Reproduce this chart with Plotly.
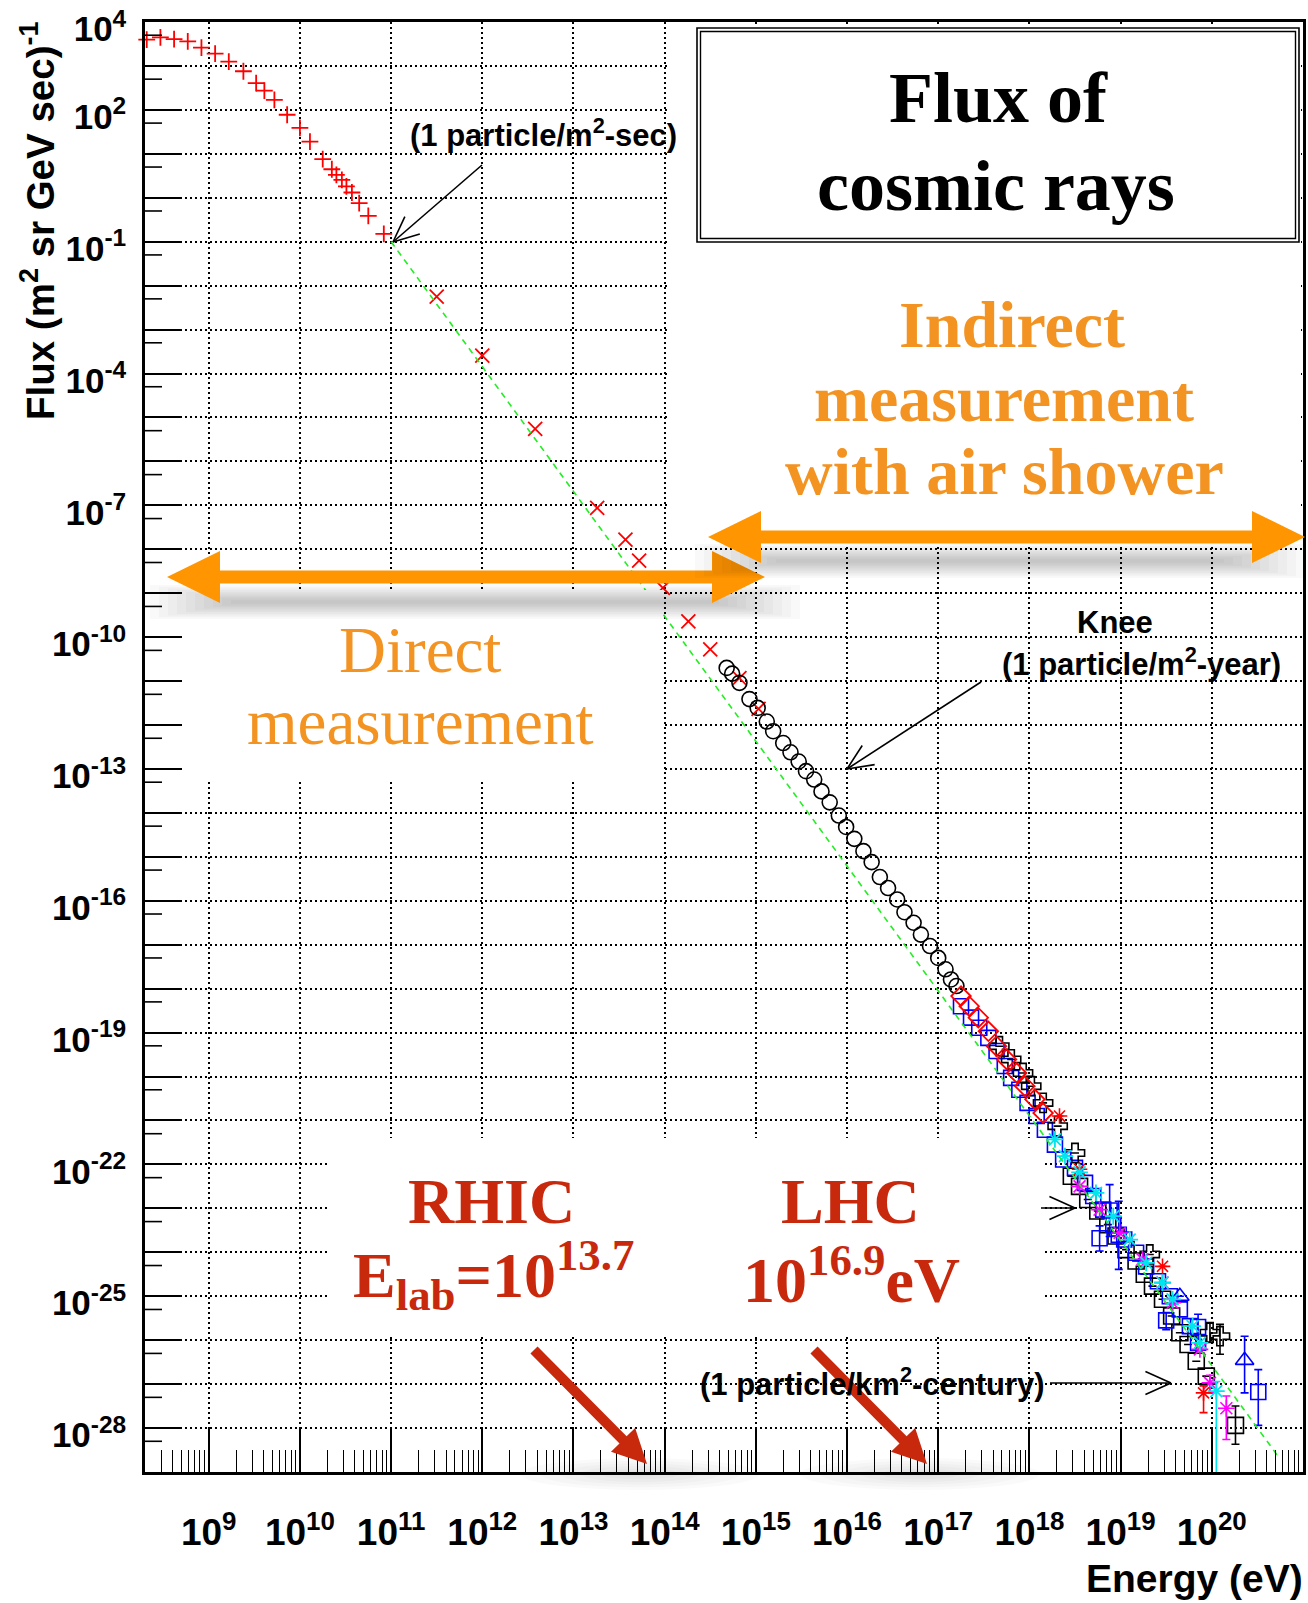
import numpy as np
import plotly.graph_objects as go

# ---------------------------------------------------------------
# Cosmic-ray flux data: log10(E / eV) and log10(flux / (m^2 sr GeV s)^-1)
# ---------------------------------------------------------------
# direct measurements (balloon / satellite), red "+"
direct_logE = [8.32, 8.47, 8.62, 8.77, 8.92, 9.07, 9.22, 9.38, 9.52, 9.61, 9.72, 9.86,
               10.00, 10.11, 10.25, 10.35, 10.40, 10.46, 10.51, 10.57, 10.65, 10.75, 10.92]
direct_logF = [3.60, 3.65, 3.61, 3.56, 3.42, 3.28, 3.10, 2.88, 2.61, 2.44, 2.23, 1.89,
               1.59, 1.28, 0.88, 0.65, 0.52, 0.41, 0.26, 0.12, -0.12, -0.41, -0.82]

# high-energy direct data, red "x"
xmark_logE = [11.50, 12.00, 12.58, 13.26, 13.57, 13.72, 13.98, 14.26, 14.50, 14.82, 15.03]
xmark_logF = [-2.25, -3.59, -5.26, -7.06, -7.78, -8.26, -8.88, -9.64, -10.28, -10.93, -11.63]

# air-shower array around the knee, open circles
circle_logE = [14.68, 14.74, 14.82, 14.93, 15.02, 15.12, 15.19, 15.30, 15.38, 15.47,
               15.55, 15.64, 15.72, 15.81, 15.91, 15.99, 16.08, 16.18, 16.27, 16.36,
               16.45, 16.55, 16.63, 16.73, 16.81, 16.91, 17.00, 17.08, 17.14, 17.20]
circle_logF = [-10.70, -10.83, -11.04, -11.41, -11.61, -11.92, -12.14, -12.41, -12.62, -12.83,
               -13.05, -13.24, -13.51, -13.76, -14.06, -14.32, -14.59, -14.87, -15.12, -15.46,
               -15.71, -15.97, -16.26, -16.50, -16.77, -17.03, -17.30, -17.56, -17.79, -17.94]

# ultra-high-energy experiments
diamond_logE = [17.25, 17.34, 17.44, 17.55, 17.64, 17.75, 17.86, 17.95, 18.06, 18.15]
diamond_logF = [-18.17, -18.40, -18.66, -18.97, -19.31, -19.61, -19.92, -20.22, -20.52, -20.83]

bsq_logE = [17.25, 17.36, 17.45, 17.55, 17.64, 17.73, 17.80, 17.89, 17.98, 18.08, 18.17, 18.28,
            18.37, 18.50, 18.61, 18.70, 18.81, 18.92, 19.04, 19.17, 19.28, 19.41, 19.54,
            19.65, 19.76, 19.85]
bsq_logF = [-18.40, -18.66, -18.89, -19.12, -19.42, -19.76, -20.03, -20.30, -20.60, -20.90,
            -21.21, -21.55, -21.89, -22.08, -22.42, -22.72, -23.03, -23.37, -23.71, -24.01,
            -24.32, -24.66, -25.00, -25.30, -25.68, -26.06]

bsqe_logE = [18.77, 18.88, 18.98, 19.50, 19.85, 20.51]
bsqe_logF = [-23.68, -23.05, -23.60, -25.55, -25.70, -27.18]
bsqe_hi = [-23.40, -22.46, -22.84, -25.37, -25.41, -26.67]
bsqe_lo = [-23.97, -23.64, -24.39, -25.76, -25.98, -27.94]

ksq_logE = [18.46, 18.55, 18.64, 18.75, 18.86, 18.95, 19.06, 19.17, 19.26, 19.35, 19.46,
            19.56, 19.65, 19.74, 19.83, 19.94, 20.26]
ksq_logF = [-22.27, -22.50, -22.80, -23.06, -23.37, -23.63, -23.94, -24.20, -24.50, -24.77,
            -25.07, -25.45, -25.83, -26.10, -26.48, -26.82, -27.94]
ksq_hi = [-22.27, -22.50, -22.80, -23.06, -23.37, -23.63, -23.94, -24.20, -24.50, -24.77,
          -25.07, -25.45, -25.83, -26.10, -26.48, -26.82, -27.50]
ksq_lo = [-22.27, -22.50, -22.80, -23.06, -23.37, -23.63, -23.94, -24.20, -24.50, -24.77,
          -25.07, -25.45, -25.83, -26.10, -26.48, -26.82, -28.37]

kcross_logE = [17.67, 17.80, 17.93, 18.02, 18.15, 18.31, 18.50, 19.32, 19.98, 20.09]
kcross_logF = [-19.31, -19.61, -19.92, -20.22, -20.60, -21.13, -21.74, -24.05, -25.83, -25.91]
kcross_hi = [-19.31, -19.61, -19.92, -20.22, -20.60, -21.13, -21.74, -24.05, -25.60, -25.64]
kcross_lo = [-19.31, -19.61, -19.92, -20.22, -20.60, -21.13, -21.74, -24.05, -26.05, -26.32]

cyan_logE = [18.28, 18.39, 18.55, 18.73, 18.92, 19.10, 19.28, 19.46, 19.57, 19.79, 19.87, 20.05]
cyan_logF = [-21.43, -21.81, -22.18, -22.65, -23.18, -23.71, -24.24, -24.69, -25.07, -25.68,
             -26.06, -27.16]
cyan_hi = [-21.43, -21.81, -22.18, -22.65, -23.18, -23.71, -24.24, -24.69, -25.07, -25.68,
           -26.06, -26.94]
cyan_lo = [-21.43, -21.81, -22.18, -22.65, -23.18, -23.71, -24.24, -24.69, -25.07, -25.68,
           -26.06, -29.50]

mag_logE = [18.55, 18.77, 18.99, 19.24, 19.46, 19.57, 19.87, 19.98, 20.16]
mag_logF = [-22.50, -23.03, -23.56, -24.16, -24.69, -25.15, -26.21, -26.97, -27.55]
mag_hi = [-22.50, -23.03, -23.56, -24.16, -24.69, -25.15, -26.21, -26.80, -27.27]
mag_lo = [-22.50, -23.03, -23.56, -24.16, -24.69, -25.15, -26.21, -27.20, -28.26]

red_logE = [18.33, 18.55, 19.46, 19.91]
red_logF = [-20.90, -22.11, -24.32, -27.20]
red_hi = [-20.90, -22.11, -24.32, -27.04]
red_lo = [-20.90, -22.11, -24.32, -27.65]

btri_logE = [19.65, 20.36]
btri_logF = [-25.00, -26.46]
btri_hi = [-25.00, -25.91]
btri_lo = [-25.00, -27.20]

# E^-2.8 reference power law
fit_logE = [11.0, 20.74]
fit_logF = [-1.0, -28.68]

# axis labelling
x_label_exp = list(range(9, 21))
y_label_exp = [4, 2, -1, -4, -7, -10, -13, -16, -19, -22, -25, -28]

# ---------------------------------------------------------------
FIG_W, FIG_H = 1308, 1603
ML, MR, MT, MB = 145, 5, 22, 131
PW, PH = FIG_W - ML - MR, FIG_H - MT - MB
Y_LO, Y_HI = -29.0, 4.0


def px(x):
    return (x - ML) / PW


def py(y):
    return (FIG_H - MB - y) / PH


def lin(v):
    return 10 ** np.asarray(v, dtype=float)


def errbar(logF, hi, lo, color):
    f = lin(logF)
    return dict(type="data", symmetric=False, array=lin(hi) - f, arrayminus=f - lin(lo),
                color=color, thickness=1.6, width=4)


fig = go.Figure()


def add(logE, logF, symbol, color, size=14, lw=1.5, error=None):
    fig.add_trace(go.Scatter(
        x=lin(logE), y=lin(logF), mode="markers", cliponaxis=False,
        marker=dict(symbol=symbol, size=size, color=color,
                    line=dict(color=color, width=lw)),
        error_y=error, showlegend=False, hoverinfo="x+y"))


add(direct_logE, direct_logF, "cross-thin", "red", size=12, lw=1.8)
add(xmark_logE, xmark_logF, "x-thin", "red", size=14, lw=1.8)
add(circle_logE, circle_logF, "circle-open", "black", size=15, lw=1.6)
add(ksq_logE, ksq_logF, "square-open", "black", size=16, lw=1.6,
    error=errbar(ksq_logF, ksq_hi, ksq_lo, "black"))
add(bsq_logE, bsq_logF, "square-open", "blue", size=15, lw=1.6)
add(bsqe_logE, bsqe_logF, "square-open", "blue", size=15, lw=1.6,
    error=errbar(bsqe_logF, bsqe_hi, bsqe_lo, "blue"))
add(kcross_logE, kcross_logF, "cross-open", "black", size=16, lw=1.6,
    error=errbar(kcross_logF, kcross_hi, kcross_lo, "black"))
add(diamond_logE, diamond_logF, "diamond-open", "red", size=15, lw=1.8)
add(btri_logE, btri_logF, "triangle-up-open", "blue", size=16, lw=1.6,
    error=errbar(btri_logF, btri_hi, btri_lo, "blue"))
add(mag_logE, mag_logF, "asterisk-open", "magenta", size=14, lw=1.6,
    error=errbar(mag_logF, mag_hi, mag_lo, "magenta"))
add(red_logE, red_logF, "asterisk-open", "red", size=13, lw=1.6,
    error=errbar(red_logF, red_hi, red_lo, "red"))
add(cyan_logE, cyan_logF, "asterisk-open", "#00e5ee", size=14, lw=1.8,
    error=errbar(cyan_logF, cyan_hi, cyan_lo, "#00e5ee"))

fig.add_trace(go.Scatter(x=lin(fit_logE), y=lin(fit_logF), mode="lines",
                         line=dict(color="#22ee22", width=1.6, dash="6px,5px"),
                         showlegend=False, hoverinfo="skip"))

# ---------------------------------------------------------------
# decorations (positioned in figure pixels, converted to paper units)
shapes = []


def rect(x0, y0, x1, y1, fill="white", line=None):
    shapes.append(dict(type="rect", xref="paper", yref="paper",
                       x0=px(x0), x1=px(x1), y0=py(y1), y1=py(y0),
                       fillcolor=fill, line=line or dict(width=0), layer="above"))


def poly(pts, fill):
    path = "M " + " L ".join(f"{px(x):.5f},{py(y):.5f}" for x, y in pts) + " Z"
    shapes.append(dict(type="path", xref="paper", yref="paper", path=path,
                       fillcolor=fill, line=dict(width=0), layer="above"))


def seg(x0, y0, x1, y1, color="black", width=1.6):
    shapes.append(dict(type="line", xref="paper", yref="paper",
                       x0=px(x0), y0=py(y0), x1=px(x1), y1=py(y1),
                       line=dict(color=color, width=width), layer="above"))


def arrow_pts(p0, p1, shaft, hl, hw, double=False):
    p0, p1 = np.array(p0, float), np.array(p1, float)
    u = (p1 - p0) / np.linalg.norm(p1 - p0)
    n = np.array([-u[1], u[0]])
    b1 = p1 - u * hl
    if double:
        b0 = p0 + u * hl
        pts = [p0, b0 + n * hw, b0 + n * shaft, b1 + n * shaft, b1 + n * hw, p1,
               b1 - n * hw, b1 - n * shaft, b0 - n * shaft, b0 - n * hw]
    else:
        pts = [p0 + n * shaft, b1 + n * shaft, b1 + n * hw, p1,
               b1 - n * hw, b1 - n * shaft, p0 - n * shaft]
    return [tuple(p) for p in pts]


def soft_band(x0, x1, yc, h, n=10, alpha=0.022):
    # stacked translucent strips give a soft drop shadow
    for i in range(n):
        hh = h * (1 - i / n)
        inset = 9 * i
        rect(x0 + inset, yc - hh / 2, x1 - inset, yc + hh / 2,
             fill=f"rgba(0,0,0,{alpha})")


def soft_spot(xc, yc, rx, ry, n=6, alpha=0.02):
    for i in range(n):
        k = 1 - i / n
        shapes.append(dict(type="circle", xref="paper", yref="paper",
                           x0=px(xc - rx * k), x1=px(xc + rx * k),
                           y0=py(yc + ry * k), y1=py(yc - ry * k),
                           fillcolor=f"rgba(0,0,0,{alpha})", line=dict(width=0),
                           layer="above"))


def open_arrow(tail, tip, arm=28, spread=0.42, width=1.6):
    tail, tip = np.array(tail, float), np.array(tip, float)
    seg(*tail, *tip, width=width)
    u = (tail - tip) / np.linalg.norm(tail - tip)
    for s in (spread, -spread):
        c, sn = np.cos(s), np.sin(s)
        d = np.array([u[0] * c - u[1] * sn, u[0] * sn + u[1] * c])
        seg(*tip, *(tip + d * arm), width=width)


# short flux ticks at 5 x 10^k
for k in range(int(Y_LO) - 1, int(Y_HI)):
    v = k + np.log10(5)
    if Y_LO < v < Y_HI:
        yp = (v - Y_LO) / (Y_HI - Y_LO)
        shapes.append(dict(type="line", xref="paper", yref="paper", x0=0, x1=17 / PW,
                           y0=yp, y1=yp, line=dict(color="black", width=1.6), layer="above"))

# white panels over the grid
rect(182, 590, 663, 779)           # direct measurement label area
rect(667, 24, 1301, 547)           # indirect measurement label area
rect(327, 1138, 1042, 1336)        # accelerator label area
# title box with double frame
rect(697, 28, 1299, 242, line=dict(color="black", width=1.6))
rect(700.5, 31.5, 1295.5, 238.5, fill="rgba(0,0,0,0)", line=dict(color="black", width=1.4))

ORANGE = "#ff9500"
soft_band(150, 800, 602, 34)
poly(arrow_pts((167, 577), (765, 577), 6.5, 53, 26, double=True), ORANGE)
soft_band(695, 1305, 561, 34)
poly(arrow_pts((708, 537), (1305, 537), 6.5, 53, 26, double=True), ORANGE)

DARKRED = "#c8280c"
soft_spot(640, 1474, 120, 16)
soft_spot(920, 1474, 120, 16)
poly(arrow_pts((534, 1350), (647, 1464), 5, 34, 17), DARKRED)
poly(arrow_pts((814, 1350), (927, 1464), 5, 34, 17), DARKRED)

open_arrow((482, 165), (393, 242))
open_arrow((981, 682), (847, 769))
open_arrow((1050, 1383), (1171, 1383))
open_arrow((1041, 1208), (1075, 1208))

# ---------------------------------------------------------------
ann = []


def text(x, y, s, size, color="black", family="Liberation Sans", bold=True,
         xanchor="center", yanchor="middle", angle=0):
    ann.append(dict(xref="paper", yref="paper", x=px(x), y=py(y), text=s,
                    showarrow=False, xanchor=xanchor, yanchor=yanchor, textangle=angle,
                    font=dict(family=family, size=size, color=color,
                              weight="bold" if bold else "normal")))


SERIF = "Liberation Serif"
TXT_OR = "#f39322"
text(998, 98, "Flux of", 72, family=SERIF)
text(996, 186, "cosmic rays", 72, family=SERIF)
text(1012, 324, "Indirect", 66, color=TXT_OR, family=SERIF)
text(1004, 398, "measurement", 66, color=TXT_OR, family=SERIF)
text(1004, 472, "with air shower", 66, color=TXT_OR, family=SERIF)
text(420, 650, "Direct", 65, color=TXT_OR, family=SERIF, bold=False)
text(420, 722, "measurement", 65, color=TXT_OR, family=SERIF, bold=False)
text(492, 1201, "RHIC", 64, color=DARKRED, family=SERIF)
text(493, 1275, "E<sub>lab</sub>=10<sup>13.7</sup>", 64, color=DARKRED, family=SERIF)
text(850, 1201, "LHC", 64, color=DARKRED, family=SERIF)
text(851, 1275, "10<sup>16.9</sup>eV", 64, color=DARKRED, family=SERIF)

text(543, 133, "(1 particle/m<sup>2</sup>-sec)", 31)
text(1115, 622, "Knee", 31)
text(1141, 662, "(1 particle/m<sup>2</sup>-year)", 31)
text(872, 1382, "(1 particle/km<sup>2</sup>-century)", 31)

text(38, 221, "Flux (m<sup>2</sup> sr GeV sec)<sup>-1</sup>", 38.5, angle=-90)
text(1305, 1602, "Energy (eV)", 39, xanchor="right", yanchor="bottom")

# ---------------------------------------------------------------
x_minor = [m * 10.0 ** k for k in range(8, 21) for m in range(2, 10) if 2e8 < m * 10.0 ** k < 1e21]
y_plain = [10.0 ** k for k in range(int(Y_LO), int(Y_HI) + 1) if k not in y_label_exp]

grid = dict(showgrid=True, gridcolor="black", gridwidth=1.5, griddash="2px,3px")
tickfont = dict(family="Liberation Sans", size=37, color="black", weight="bold")

fig.update_layout(
    width=FIG_W, height=FIG_H,
    margin=dict(l=ML, r=MR, t=MT, b=MB, autoexpand=False),
    paper_bgcolor="white", plot_bgcolor="white",
    showlegend=False,
    shapes=shapes, annotations=ann,
    xaxis=dict(type="log", range=[np.log10(2e8), 21.0005], **grid, automargin=False,
               showline=True, linecolor="black", linewidth=2.5, mirror=True,
               ticks="inside", ticklen=44, tickwidth=1.5, tickcolor="black",
               tickmode="array", tickvals=[10.0 ** k for k in x_label_exp],
               ticktext=[f"10<sup>{k}</sup>" for k in x_label_exp],
               tickfont=tickfont, ticklabelstandoff=26, zeroline=False,
               minor=dict(tickmode="array", tickvals=x_minor, ticks="inside", ticklen=22,
                          tickwidth=1.3, tickcolor="black", showgrid=False)),
    yaxis=dict(type="log", range=[Y_LO - 0.001, Y_HI + 0.001], **grid, automargin=False,
               showline=True, linecolor="black", linewidth=2.5, mirror=True,
               ticks="inside", ticklen=35, tickwidth=2, tickcolor="black",
               tickmode="array", tickvals=[10.0 ** k for k in y_label_exp],
               ticktext=[f"10<sup>{k}</sup>" for k in y_label_exp],
               tickfont=dict(tickfont, size=35), ticklabelstandoff=9,
               ticklabelshift=7, ticklabeloverflow="allow", zeroline=False,
               minor=dict(tickmode="array", tickvals=y_plain, ticks="inside", ticklen=35,
                          tickwidth=2, tickcolor="black", showgrid=True,
                          gridcolor="black", gridwidth=1.5, griddash="2px,3px")),
)

fig.write_html("out.html")
